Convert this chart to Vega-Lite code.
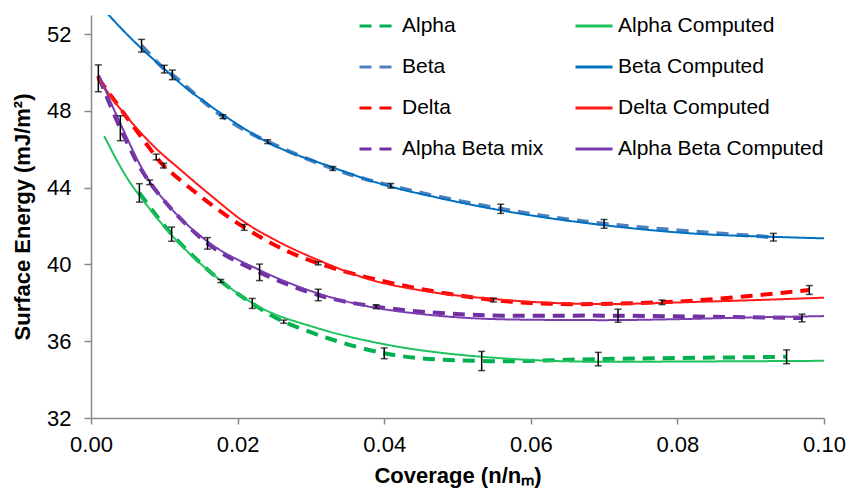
{
  "$schema": "https://vega.github.io/schema/vega-lite/v6.json",
  "width": 733,
  "height": 403,
  "autosize": {"type": "none"},
  "padding": {"left": 91, "top": 15, "right": 23, "bottom": 72},
  "background": "white",
  "config": {
    "view": {"stroke": null},
    "font": "Liberation Sans",
    "axis": {
      "grid": false,
      "domainColor": "#888888",
      "tickColor": "#888888",
      "domainWidth": 1.5,
      "tickWidth": 1.5,
      "labelFont": "Liberation Sans",
      "labelFontSize": 22,
      "labelColor": "black",
      "labelFlush": false,
      "titleFont": "Liberation Sans",
      "titleFontSize": 22,
      "titleFontWeight": "bold",
      "titleColor": "black"
    },
    "legend": {
      "orient": "none",
      "legendX": 267,
      "legendY": -9,
      "columns": 2,
      "columnPadding": 25,
      "rowPadding": 11,
      "padding": 0,
      "symbolType": "stroke",
      "symbolSize": 1369,
      "symbolStrokeWidth": 3,
      "labelFont": "Liberation Sans",
      "labelFontSize": 21,
      "labelColor": "black",
      "labelOffset": 4,
      "labelLimit": 400
    }
  },
  "data": {
    "values": [
      {"s": "Alpha", "k": "m", "x": 0.0066, "y": 43.73, "lo": 43.25, "hi": 44.21},
      {"s": "Alpha", "k": "m", "x": 0.0110, "y": 41.58, "lo": 41.21, "hi": 41.95},
      {"s": "Alpha", "k": "m", "x": 0.0177, "y": 39.14, "lo": 39.06, "hi": 39.22},
      {"s": "Alpha", "k": "m", "x": 0.0220, "y": 37.97, "lo": 37.71, "hi": 38.23},
      {"s": "Alpha", "k": "m", "x": 0.0263, "y": 37.02, "lo": 36.94, "hi": 37.10},
      {"s": "Alpha", "k": "m", "x": 0.0400, "y": 35.37, "lo": 35.09, "hi": 35.65},
      {"s": "Alpha", "k": "m", "x": 0.0533, "y": 34.97, "lo": 34.47, "hi": 35.47},
      {"s": "Alpha", "k": "m", "x": 0.0692, "y": 35.07, "lo": 34.72, "hi": 35.42},
      {"s": "Alpha", "k": "m", "x": 0.0949, "y": 35.19, "lo": 34.83, "hi": 35.55},

      {"s": "Beta", "k": "m", "x": 0.0069, "y": 51.40, "lo": 51.07, "hi": 51.73},
      {"s": "Beta", "k": "m", "x": 0.0100, "y": 50.18, "lo": 49.98, "hi": 50.38},
      {"s": "Beta", "k": "m", "x": 0.0111, "y": 49.88, "lo": 49.63, "hi": 50.13},
      {"s": "Beta", "k": "m", "x": 0.0180, "y": 47.70, "lo": 47.60, "hi": 47.80},
      {"s": "Beta", "k": "m", "x": 0.0241, "y": 46.40, "lo": 46.30, "hi": 46.50},
      {"s": "Beta", "k": "m", "x": 0.0330, "y": 45.00, "lo": 44.90, "hi": 45.10},
      {"s": "Beta", "k": "m", "x": 0.0409, "y": 44.10, "lo": 43.98, "hi": 44.22},
      {"s": "Beta", "k": "m", "x": 0.0559, "y": 42.90, "lo": 42.66, "hi": 43.14},
      {"s": "Beta", "k": "m", "x": 0.0700, "y": 42.12, "lo": 41.89, "hi": 42.35},
      {"s": "Beta", "k": "m", "x": 0.0931, "y": 41.42, "lo": 41.22, "hi": 41.62},

      {"s": "Delta", "k": "m", "x": 0.0010, "y": 49.70, "lo": 49.00, "hi": 50.40},
      {"s": "Delta", "k": "m", "x": 0.0089, "y": 45.60, "lo": 45.45, "hi": 45.75},
      {"s": "Delta", "k": "m", "x": 0.0099, "y": 45.15, "lo": 45.03, "hi": 45.27},
      {"s": "Delta", "k": "m", "x": 0.0209, "y": 41.93, "lo": 41.78, "hi": 42.08},
      {"s": "Delta", "k": "m", "x": 0.0310, "y": 40.06, "lo": 39.98, "hi": 40.14},
      {"s": "Delta", "k": "m", "x": 0.0549, "y": 38.15, "lo": 38.05, "hi": 38.25},
      {"s": "Delta", "k": "m", "x": 0.0779, "y": 38.03, "lo": 37.91, "hi": 38.15},
      {"s": "Delta", "k": "m", "x": 0.0980, "y": 38.67, "lo": 38.44, "hi": 38.90},

      {"s": "Alpha Beta mix", "k": "m", "x": 0.0011, "y": 49.75},
      {"s": "Alpha Beta mix", "k": "m", "x": 0.0040, "y": 47.10, "lo": 46.45, "hi": 47.75},
      {"s": "Alpha Beta mix", "k": "m", "x": 0.0080, "y": 44.28, "lo": 44.16, "hi": 44.40},
      {"s": "Alpha Beta mix", "k": "m", "x": 0.0159, "y": 41.10, "lo": 40.80, "hi": 41.40},
      {"s": "Alpha Beta mix", "k": "m", "x": 0.0230, "y": 39.59, "lo": 39.16, "hi": 40.02},
      {"s": "Alpha Beta mix", "k": "m", "x": 0.0310, "y": 38.41, "lo": 38.11, "hi": 38.71},
      {"s": "Alpha Beta mix", "k": "m", "x": 0.0389, "y": 37.80, "lo": 37.70, "hi": 37.90},
      {"s": "Alpha Beta mix", "k": "m", "x": 0.0520, "y": 37.38},
      {"s": "Alpha Beta mix", "k": "m", "x": 0.0719, "y": 37.33, "lo": 36.99, "hi": 37.67},
      {"s": "Alpha Beta mix", "k": "m", "x": 0.0970, "y": 37.21, "lo": 37.01, "hi": 37.41},

      {"s": "Alpha Computed", "k": "c", "x": 0.0018, "y": 46.69},
      {"s": "Alpha Computed", "k": "c", "x": 0.0051, "y": 44.40},
      {"s": "Alpha Computed", "k": "c", "x": 0.0071, "y": 43.35},
      {"s": "Alpha Computed", "k": "c", "x": 0.0110, "y": 41.53},
      {"s": "Alpha Computed", "k": "c", "x": 0.0176, "y": 39.19},
      {"s": "Alpha Computed", "k": "c", "x": 0.0221, "y": 37.97},
      {"s": "Alpha Computed", "k": "c", "x": 0.0310, "y": 36.67},
      {"s": "Alpha Computed", "k": "c", "x": 0.0394, "y": 35.89},
      {"s": "Alpha Computed", "k": "c", "x": 0.0533, "y": 35.19},
      {"s": "Alpha Computed", "k": "c", "x": 0.0698, "y": 34.93},
      {"s": "Alpha Computed", "k": "c", "x": 0.0850, "y": 34.95},
      {"s": "Alpha Computed", "k": "c", "x": 0.1000, "y": 34.98},

      {"s": "Beta Computed", "k": "c", "x": 0.0023, "y": 53.05},
      {"s": "Beta Computed", "k": "c", "x": 0.0037, "y": 52.47},
      {"s": "Beta Computed", "k": "c", "x": 0.0069, "y": 51.25},
      {"s": "Beta Computed", "k": "c", "x": 0.0101, "y": 50.16},
      {"s": "Beta Computed", "k": "c", "x": 0.0128, "y": 49.25},
      {"s": "Beta Computed", "k": "c", "x": 0.0156, "y": 48.45},
      {"s": "Beta Computed", "k": "c", "x": 0.0181, "y": 47.78},
      {"s": "Beta Computed", "k": "c", "x": 0.0240, "y": 46.39},
      {"s": "Beta Computed", "k": "c", "x": 0.0331, "y": 45.04},
      {"s": "Beta Computed", "k": "c", "x": 0.0394, "y": 44.22},
      {"s": "Beta Computed", "k": "c", "x": 0.0472, "y": 43.49},
      {"s": "Beta Computed", "k": "c", "x": 0.0558, "y": 42.83},
      {"s": "Beta Computed", "k": "c", "x": 0.0699, "y": 42.05},
      {"s": "Beta Computed", "k": "c", "x": 0.0835, "y": 41.58},
      {"s": "Beta Computed", "k": "c", "x": 0.0931, "y": 41.44},
      {"s": "Beta Computed", "k": "c", "x": 0.1000, "y": 41.36},

      {"s": "Delta Computed", "k": "c", "x": 0.0008, "y": 49.80},
      {"s": "Delta Computed", "k": "c", "x": 0.0030, "y": 48.60},
      {"s": "Delta Computed", "k": "c", "x": 0.0060, "y": 47.20},
      {"s": "Delta Computed", "k": "c", "x": 0.0090, "y": 46.00},
      {"s": "Delta Computed", "k": "c", "x": 0.0120, "y": 45.00},
      {"s": "Delta Computed", "k": "c", "x": 0.0165, "y": 43.55},
      {"s": "Delta Computed", "k": "c", "x": 0.0209, "y": 42.22},
      {"s": "Delta Computed", "k": "c", "x": 0.0250, "y": 41.30},
      {"s": "Delta Computed", "k": "c", "x": 0.0310, "y": 40.23},
      {"s": "Delta Computed", "k": "c", "x": 0.0380, "y": 39.22},
      {"s": "Delta Computed", "k": "c", "x": 0.0450, "y": 38.65},
      {"s": "Delta Computed", "k": "c", "x": 0.0549, "y": 38.20},
      {"s": "Delta Computed", "k": "c", "x": 0.0698, "y": 37.94},
      {"s": "Delta Computed", "k": "c", "x": 0.0835, "y": 38.06},
      {"s": "Delta Computed", "k": "c", "x": 0.1000, "y": 38.27},

      {"s": "Alpha Beta Computed", "k": "c", "x": 0.0011, "y": 49.86},
      {"s": "Alpha Beta Computed", "k": "c", "x": 0.0040, "y": 47.35},
      {"s": "Alpha Beta Computed", "k": "c", "x": 0.0076, "y": 44.57},
      {"s": "Alpha Beta Computed", "k": "c", "x": 0.0103, "y": 43.20},
      {"s": "Alpha Beta Computed", "k": "c", "x": 0.0159, "y": 41.20},
      {"s": "Alpha Beta Computed", "k": "c", "x": 0.0230, "y": 39.71},
      {"s": "Alpha Beta Computed", "k": "c", "x": 0.0310, "y": 38.49},
      {"s": "Alpha Beta Computed", "k": "c", "x": 0.0380, "y": 37.80},
      {"s": "Alpha Beta Computed", "k": "c", "x": 0.0450, "y": 37.42},
      {"s": "Alpha Beta Computed", "k": "c", "x": 0.0520, "y": 37.20},
      {"s": "Alpha Beta Computed", "k": "c", "x": 0.0600, "y": 37.12},
      {"s": "Alpha Beta Computed", "k": "c", "x": 0.0700, "y": 37.10},
      {"s": "Alpha Beta Computed", "k": "c", "x": 0.0800, "y": 37.15},
      {"s": "Alpha Beta Computed", "k": "c", "x": 0.0900, "y": 37.24},
      {"s": "Alpha Beta Computed", "k": "c", "x": 0.1000, "y": 37.31}
    ]
  },
  "encoding": {
    "x": {
      "field": "x", "type": "quantitative",
      "scale": {"domain": [0, 0.1], "nice": false, "zero": false},
      "axis": {"values": [0, 0.02, 0.04, 0.06, 0.08, 0.1], "format": ".2f", "tickSize": 6, "labelPadding": 10, "title": "Coverage (n/nₘ)", "titlePadding": 10}
    },
    "y": {
      "field": "y", "type": "quantitative",
      "scale": {"domain": [32, 53], "nice": false, "zero": false},
      "axis": {"values": [32, 36, 40, 44, 48, 52], "tickSize": 7, "labelPadding": 13, "title": "Surface Energy (mJ/m²)", "titlePadding": 12}
    }
  },
  "layer": [
    {
      "transform": [{"filter": "datum.k == 'm'"}],
      "mark": {"type": "line", "interpolate": "catmull-rom", "clip": true, "strokeWidth": 4},
      "encoding": {
        "color": {"field": "s", "type": "nominal",
          "scale": {"domain": ["Alpha", "Beta", "Delta", "Alpha Beta mix", "Alpha Computed", "Beta Computed", "Delta Computed", "Alpha Beta Computed"],
                    "range": ["#00B050", "#4F81BD", "#FF0000", "#7030A0", "#1FC25C", "#0070C0", "#FF1A1A", "#7A3DB0"]},
          "legend": {"title": null}},
        "strokeDash": {"field": "s", "type": "nominal",
          "scale": {"domain": ["Alpha", "Beta", "Delta", "Alpha Beta mix", "Alpha Computed", "Beta Computed", "Delta Computed", "Alpha Beta Computed"],
                    "range": [[12, 8], [12, 8], [12, 8], [12, 8], [1, 0], [1, 0], [1, 0], [1, 0]]},
          "legend": {"title": null}},
        "order": {"field": "x", "type": "quantitative"}
      }
    },
    {
      "transform": [{"filter": "datum.k == 'c'"}],
      "mark": {"type": "line", "interpolate": "monotone", "clip": true, "strokeWidth": 2},
      "encoding": {
        "color": {"field": "s", "type": "nominal", "legend": {"title": null}},
        "strokeDash": {"field": "s", "type": "nominal", "legend": {"title": null}},
        "order": {"field": "x", "type": "quantitative"}
      }
    },
    {
      "transform": [{"filter": "isValid(datum.lo)"}],
      "mark": {"type": "rule", "color": "black", "strokeWidth": 1.5},
      "encoding": {"y": {"field": "lo", "type": "quantitative"}, "y2": {"field": "hi"}}
    },
    {
      "transform": [{"filter": "isValid(datum.lo)"}],
      "mark": {"type": "tick", "orient": "horizontal", "color": "black", "size": 7, "thickness": 1.5},
      "encoding": {"y": {"field": "lo", "type": "quantitative"}}
    },
    {
      "transform": [{"filter": "isValid(datum.hi)"}],
      "mark": {"type": "tick", "orient": "horizontal", "color": "black", "size": 7, "thickness": 1.5},
      "encoding": {"y": {"field": "hi", "type": "quantitative"}}
    }
  ]
}
